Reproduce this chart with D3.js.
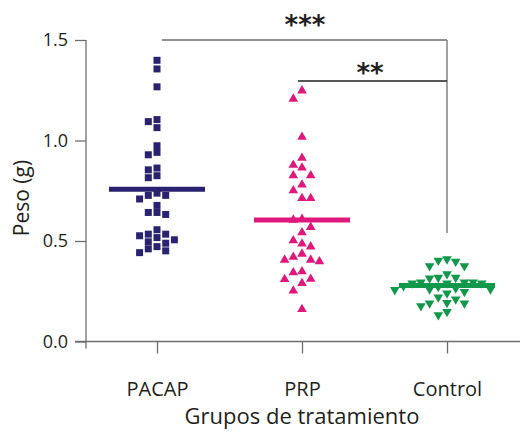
<!DOCTYPE html>
<html>
<head>
<meta charset="utf-8">
<script src="https://cdn.jsdelivr.net/npm/d3@7"></script>
<style>
body{margin:0;background:#fff;}
text{font-family:"Open Sans",Lato,sans-serif;fill:#231f20;}
</style>
</head>
<body>
<script>
// groups and values (g)
const groups=["PACAP","PRP","Control"];
const pacap=[1.399,1.356,1.267,1.104,1.094,1.064,0.974,0.941,0.929,0.863,0.854,0.825,0.815,
  0.738,0.727,0.727,0.709,0.677,0.642,0.642,0.632,0.556,0.534,0.534,0.526,0.517,0.506,0.496,0.489,0.472,0.461,0.451,0.442];
const prp=[1.248,1.207,1.017,0.913,0.878,0.864,0.826,0.826,0.780,0.751,0.713,0.713,0.609,0.605,0.569,0.542,
  0.502,0.486,0.472,0.436,0.420,0.406,0.406,0.398,0.348,0.343,0.311,0.310,0.290,0.252,0.160];
const control=[0.410,0.403,0.398,0.376,0.376,0.336,0.318,0.318,0.315,0.295,0.295,0.295,0.290,0.290,0.290,
  0.276,0.273,0.265,0.260,0.260,0.257,0.248,0.240,0.220,0.210,0.193,0.190,0.190,0.177,0.148,0.132];
const means=[0.757,0.605,0.278];
const yTicks=[0,0.5,1.0,1.5];
const sig=[{from:"PACAP",to:"Control",label:"***"},{from:"PRP",to:"Control",label:"**"}];

const w=520,h=437;
const colors=["#2b2171","#e0177d","#11984a"];

const svg=d3.select("body").append("svg")
  .attr("width",w).attr("height",h);

const x=d3.scalePoint().domain(groups).range([157,447]);
const y=d3.scaleLinear().domain([0,1.5]).range([341.5,40]);

// axes
const yAxis=d3.axisLeft(y).tickValues(yTicks).tickFormat(d3.format(".1f")).tickSize(11).tickPadding(7);
const gy=svg.append("g").attr("transform","translate(86,0)").call(yAxis);
gy.select(".domain").remove();
gy.selectAll("line").attr("stroke","#6d6e71").attr("stroke-width",1.3);
gy.selectAll("text").style("font-size","18px").attr("fill","#231f20");

const xAxis=d3.axisBottom(x).tickSize(12).tickPadding(28);
const gx=svg.append("g").attr("transform","translate(0,341.5)").call(xAxis);
gx.select(".domain").remove();
gx.selectAll("line").attr("stroke","#6d6e71").attr("stroke-width",1.3);
gx.selectAll("text").style("font-size","20px").attr("fill","#231f20");

svg.append("line").attr("x1",75).attr("x2",520).attr("y1",y(0)).attr("y2",y(0))
  .attr("stroke","#6d6e71").attr("stroke-width",1.3);
svg.append("line").attr("x1",86).attr("x2",86).attr("y1",y(1.5)).attr("y2",y(0)+7)
  .attr("stroke","#6d6e71").attr("stroke-width",1.3);

svg.append("text").attr("x",302).attr("y",424).attr("text-anchor","middle")
  .style("font-size","22px").text("Grupos de tratamiento");
svg.append("text").attr("transform","translate(29,198) rotate(-90)").attr("text-anchor","middle")
  .style("font-size","21px").text("Peso (g)");

// simple column dodge so equal-ish values spread sideways
function dodge(vals,cx,step,minDy){
  const placed=[];
  return vals.slice().sort((a,b)=>b-a).map(v=>{
    const py=y(v);
    for(let j=0;;j++){
      const k=j===0?0:(j%2?-Math.ceil(j/2):Math.ceil(j/2));
      if(!placed.some(q=>q.k===k&&Math.abs(q.y-py)<minDy)){
        placed.push({k:k,y:py});
        return {x:cx+k*step,y:py};
      }
    }
  });
}

const series=[
  {vals:pacap,sym:d3.symbolSquare,size:49,rot:0,gap:6.3},
  {vals:prp,sym:d3.symbolTriangle,size:40,rot:0,gap:9},
  {vals:control,sym:d3.symbolTriangle,size:40,rot:180,gap:9}
];

series.forEach((s,i)=>{
  const pts=dodge(s.vals,x(groups[i]),8.7,s.gap);
  svg.append("g").selectAll("path").data(pts).enter().append("path")
    .attr("d",d3.symbol().type(s.sym).size(s.size))
    .attr("transform",d=>"translate("+d.x+","+d.y+") rotate("+s.rot+")")
    .attr("fill",colors[i]);
  svg.append("line")
    .attr("x1",x(groups[i])-48).attr("x2",x(groups[i])+48)
    .attr("y1",y(means[i])).attr("y2",y(means[i]))
    .attr("stroke",colors[i]).attr("stroke-width",5);
});

// significance brackets
const brY=[40,81];
svg.append("line").attr("x1",x("Control")).attr("x2",x("Control")).attr("y1",brY[0]).attr("y2",233)
  .attr("stroke","#6d6e71").attr("stroke-width",1.3);
sig.forEach((s,i)=>{
  svg.append("line").attr("x1",x(s.from)+(i===0?5:-4)).attr("x2",x(s.to))
    .attr("y1",brY[i]).attr("y2",brY[i])
    .attr("stroke",i===0?"#6d6e71":"#231f20").attr("stroke-width",1.3);
  svg.append("text").attr("x",i===0?305:370).attr("y",i===0?34:82)
    .attr("text-anchor","middle")
    .style("font-family","DejaVu Sans").style("font-weight","bold").style("font-size","26px")
    .text(s.label);
});
</script>
</body>
</html>
